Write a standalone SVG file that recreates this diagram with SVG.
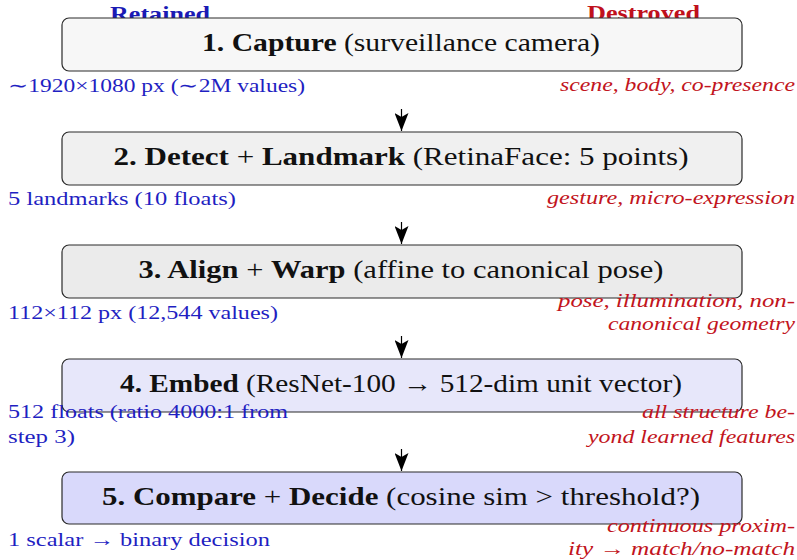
<svg xmlns="http://www.w3.org/2000/svg" width="797" height="560" viewBox="0 0 797 560">
<style>
text{font-family:'Liberation Serif','Times New Roman',Tinos,Times,serif}
.box{stroke:#2a2a2a;stroke-width:1.2}
.t{font-size:25px;fill:#111;text-anchor:middle}
.b{font-weight:bold}
.l{font-size:18.5px;fill:#1f1fc2}
.r{font-size:18.5px;font-style:italic;fill:#c21420;text-anchor:end}
.h{font-size:21px;font-weight:bold}
.edge{stroke:#000;stroke-width:1.2;fill:none;marker-end:url(#ah)}
</style>
<defs>
<marker id="ah" markerUnits="userSpaceOnUse" viewBox="0 0 18 14" refX="18" refY="7" markerWidth="18" markerHeight="14" orient="auto">
<path d="M0,0 L18,7 L0,14 L4,7 Z" fill="#000"/>
</marker>
</defs>
<g id="headers">
<text class="h" x="110" y="21" fill="#1a1ab4" textLength="100" lengthAdjust="spacingAndGlyphs">Retained</text>
<text class="h" x="587" y="20" fill="#c0101c" textLength="113" lengthAdjust="spacingAndGlyphs">Destroyed</text>
</g>
<g id="node1">
<rect class="box" x="62" y="18" width="680" height="53" rx="7" fill="#f7f7f7"/>
<text class="t" x="401" y="51" textLength="398" lengthAdjust="spacingAndGlyphs"><tspan class="b">1.  Capture</tspan> (surveillance camera)</text>
</g>
<g id="node2">
<rect class="box" x="62" y="132" width="680" height="53" rx="7" fill="#f0f0f0"/>
<text class="t" x="401" y="165" textLength="575" lengthAdjust="spacingAndGlyphs"><tspan class="b">2.  Detect</tspan> + <tspan class="b">Landmark</tspan> (RetinaFace: 5 points)</text>
</g>
<g id="node3">
<rect class="box" x="62" y="245" width="680" height="53" rx="7" fill="#ebebeb"/>
<text class="t" x="401" y="278" textLength="525" lengthAdjust="spacingAndGlyphs"><tspan class="b">3.  Align</tspan> + <tspan class="b">Warp</tspan> (affine to canonical pose)</text>
</g>
<g id="node4">
<rect class="box" x="62" y="359" width="680" height="53" rx="7" fill="#e7e7fa"/>
<text class="t" x="401" y="392" textLength="562" lengthAdjust="spacingAndGlyphs"><tspan class="b">4.  Embed</tspan> (ResNet-100 → 512-dim unit vector)</text>
</g>
<g id="node5">
<rect class="box" x="62" y="472" width="680" height="52" rx="7" fill="#d9d9fb"/>
<text class="t" x="401" y="505" textLength="598" lengthAdjust="spacingAndGlyphs"><tspan class="b">5.  Compare</tspan> + <tspan class="b">Decide</tspan> (cosine sim &gt; threshold?)</text>
</g>
<g id="retained">
<text class="l" x="8" y="92" textLength="297" lengthAdjust="spacingAndGlyphs">∼1920×1080 px (∼2M values)</text>
<text class="l" x="8" y="205" textLength="228" lengthAdjust="spacingAndGlyphs">5 landmarks (10 floats)</text>
<text class="l" x="8" y="319" textLength="270" lengthAdjust="spacingAndGlyphs">112×112 px (12,544 values)</text>
<text class="l" x="8" y="418" textLength="280" lengthAdjust="spacingAndGlyphs">512 floats (ratio 4000:1 from</text>
<text class="l" x="8" y="443" textLength="67" lengthAdjust="spacingAndGlyphs">step 3)</text>
<text class="l" x="8" y="546" textLength="262" lengthAdjust="spacingAndGlyphs">1 scalar → binary decision</text>
</g>
<g id="destroyed">
<text class="r" x="795" y="91" textLength="235" lengthAdjust="spacingAndGlyphs">scene, body, co-presence</text>
<text class="r" x="795" y="204" textLength="248" lengthAdjust="spacingAndGlyphs">gesture, micro-expression</text>
<text class="r" x="795" y="307" textLength="237" lengthAdjust="spacingAndGlyphs">pose, illumination, non-</text>
<text class="r" x="795" y="330" textLength="187" lengthAdjust="spacingAndGlyphs">canonical geometry</text>
<text class="r" x="795" y="418" textLength="153" lengthAdjust="spacingAndGlyphs">all structure be-</text>
<text class="r" x="795" y="443" textLength="207" lengthAdjust="spacingAndGlyphs">yond learned features</text>
<text class="r" x="795" y="532" textLength="188" lengthAdjust="spacingAndGlyphs">continuous proxim-</text>
<text class="r" x="795" y="555" textLength="227" lengthAdjust="spacingAndGlyphs">ity → match/no-match</text>
</g>
<g id="connectors">
<line class="edge" x1="401.5" y1="109" x2="401.5" y2="131"/>
<line class="edge" x1="401.5" y1="222" x2="401.5" y2="244"/>
<line class="edge" x1="401.5" y1="336" x2="401.5" y2="358"/>
<line class="edge" x1="401.5" y1="449" x2="401.5" y2="471"/>
</g>
</svg>
